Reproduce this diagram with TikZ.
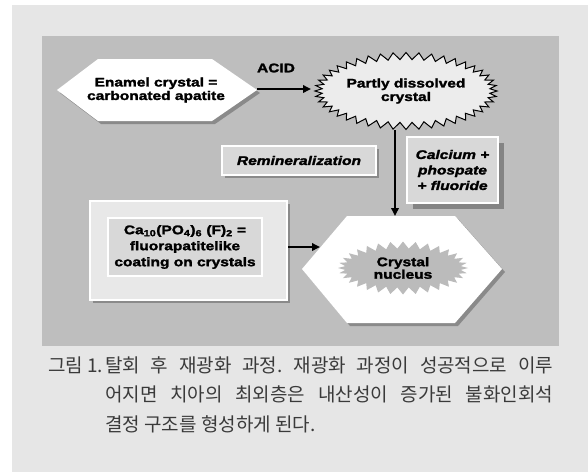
\documentclass[tikz,border=0pt]{standalone}
\usepackage{fontspec}
\setmainfont{Liberation Sans}
\newfontfamily\diagb{Liberation Sans Bold}[FakeStretch=1.24, FakeBold=2]
\newfontfamily\diagbi{Liberation Sans Bold Italic}[FakeStretch=1.24, FakeBold=2]
\newfontfamily\kr{Noto Sans CJK KR}
\usetikzlibrary{shapes.symbols,arrows.meta,shadows}
\definecolor{outergray}{HTML}{E6E6E6}
\definecolor{panelgray}{HTML}{BEBEBE}
\definecolor{boxgray}{HTML}{D8D8D8}
\definecolor{lightbox}{HTML}{E8E8E8}
\definecolor{burstfill}{HTML}{ECECEC}
\definecolor{nucgray}{HTML}{BBBBBB}
\definecolor{captext}{HTML}{3A3A3A}
\tikzset{
  lbl/.style={font=\diagb\fontsize{12.5}{13.5}\selectfont, align=center, inner sep=0pt, text=black},
  ilbl/.style={font=\diagbi\fontsize{12.5}{15.5}\selectfont, align=center, inner sep=0pt, text=black},
  shad/.style={drop shadow={shadow xshift=3pt, shadow yshift=-3pt, fill=black!70, opacity=.45}},
  bigshad/.style={drop shadow={shadow xshift=6pt, shadow yshift=-6pt, fill=black!70, opacity=.5}},
  panelbox/.style={draw=white, line width=2pt, fill=boxgray, inner sep=0pt},
  arr/.style={line width=1.8pt, -{Triangle[length=8pt,width=7.5pt]}},
  captxt/.style={font=\kr\frenchspacing\fontsize{19}{29}\selectfont, text=captext, inner sep=0pt}
}
\begin{document}
\begin{tikzpicture}[x=1pt,y=-1pt]
% background
\fill[white] (0,0) rectangle (588,472);
\fill[outergray] (12,5) rectangle (588,472);
\fill[panelgray] (42,36) rectangle (559,346);

% Enamel hexagon
\path[fill=white, shad] (57,90) -- (98,59) -- (212,59) -- (257,90) -- (212,121) -- (98,121) -- cycle;
\node[lbl] (enamel) at (156,90) {Enamel crystal =\\carbonated apatite};
\coordinate (enR) at (257,89);

% Partly dissolved crystal
\node[starburst, draw=black, line width=1pt, fill=burstfill, minimum width=182pt, minimum height=77pt,
      starburst points=44, starburst point height=7pt, random starburst=0, lbl] (pd) at (406,91)
      {Partly dissolved\\crystal};
\coordinate (pdL) at (311,89);

% ACID arrow
\node[lbl] (acid) at (276,68) {ACID};
\draw[arr] (enR) -- (pdL);

% Remineralization
\node[panelbox, shad, minimum width=154pt, minimum height=29pt, ilbl] (remin) at (299,160.5) {Remineralization};

% Calcium box
\node[panelbox, bigshad, minimum width=91pt, minimum height=66pt, ilbl] (calc) at (452.5,170) {Calcium +\\phospate\\+ fluoride};

% Ca10 box
\node[panelbox, fill=lightbox, shad, minimum width=197pt, minimum height=99pt] (caouter) at (188.5,250.5) {};
\node[panelbox, fill=boxgray, minimum width=154pt, minimum height=58pt, lbl, font=\diagb\fontsize{12.5}{16}\selectfont] (ca) at (185,247)
  {Ca\textsubscript{10}(PO\textsubscript{4})\textsubscript{6} (F)\textsubscript{2} =\\fluorapatitelike\\coating on crystals};

% Crystal nucleus hexagon
\path[fill=white, shad] (302,269) -- (347,216) -- (455,216) -- (502,269) -- (455,323) -- (347,323) -- cycle;
\node[starburst, fill=nucgray, minimum width=130pt, minimum height=53pt, starburst points=32,
      starburst point height=7pt, random starburst=0, lbl, font=\diagb\fontsize{12.5}{12.5}\selectfont] (cn) at (403,268) {Crystal\\nucleus};
\coordinate (cnTop) at (395,216);
\coordinate (cnL) at (320,247);

% arrows
\draw[arr] (pd.south -| cnTop) -- (cnTop);
\draw[arr] (caouter.east |- cnL) -- (cnL);

% caption
\node[captxt, anchor=base west] (capA) at (48,372) {그림 1.};
\node[captxt, anchor=base west] (capB) at (105,372) {\makebox[448pt][s]{탈회 후 재광화 과정. 재광화 과정이 성공적으로 이루}};
\node[captxt, anchor=base west] (capC) at (105,401) {\makebox[448pt][s]{어지면 치아의 최외층은 내산성이 증가된 불화인회석}};
\node[captxt, anchor=base west] (capD) at (105,431) {결정 구조를 형성하게 된다.};
\end{tikzpicture}
\end{document}
